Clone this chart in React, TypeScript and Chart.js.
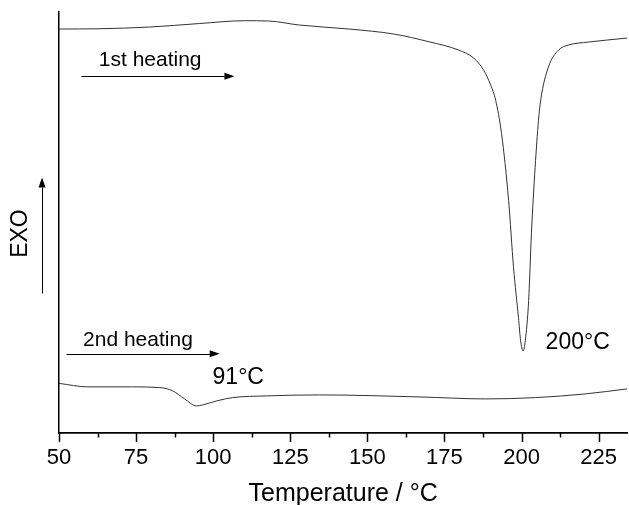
import React, { useEffect, useRef } from "react";
import { Chart, registerables } from "chart.js";

Chart.register(...registerables);

const FONT = "'Liberation Sans', Arial, sans-serif";

// 1st heating curve (temperature °C, signal a.u.)
const heat1X = [50, 63.3, 79.4, 95.6, 110.1, 118, 127.9, 144.1, 158.6, 170, 179.6, 184.5, 187.7, 190.0, 191.6, 193.5, 195.8, 197.4, 199.0, 199.7, 200.5, 201.2, 202.3, 203.2, 204.4, 205.5, 206.2, 208.7, 212.0, 215.2, 221.7, 234.3];
const heat1Y = [403, 403.3, 405, 408.5, 411.3, 411, 407, 403, 398, 390.3, 382, 374, 362, 347, 332, 299, 232, 165, 115, 92, 82, 92, 132, 199, 265, 312, 332, 365, 382, 387, 390, 394];

// 2nd heating curve
const heat2X = [50, 59.4, 73.9, 82.7, 86.9, 90.7, 94.6, 96.6, 101.1, 106.3, 117.2, 134.4, 166.7, 188.4, 204.5, 220.7, 234.3];
const heat2Y = [49.5, 46, 46, 45.3, 42, 34, 27, 28, 32, 35.3, 37, 38, 36, 34, 35.3, 39, 44];

const majorTicks = [50, 75, 100, 125, 150, 175, 200, 225];
const minorTicks = [62.5, 87.5, 112.5, 137.5, 162.5, 187.5, 212.5];
const xMin = 50;
const xMax = 234.3;
const yMin = 0;
const yMax = 420;

const textLabels = [
  { text: "1st heating", x: 62.9, y: 372, size: 21 },
  { text: "2nd heating", x: 57.8, y: 92.5, size: 21 },
  { text: "91°C", x: 99.8, y: 55.5, size: 23 },
  { text: "200°C", x: 207.8, y: 90.5, size: 23 },
];
const arrowList = [
  { x1: 57.1, y1: 356, x2: 106.9, y2: 356 },
  { x1: 52.3, y1: 79, x2: 102.1, y2: 79 },
  { x1: 44.5, y1: 140, x2: 44.5, y2: 255 },
];
const yLabel = { text: "EXO", x: 37.7, y: 199, size: 23 };

const annotPlugin = {
  id: "annot",
  afterDraw(chart: any) {
    const ctx = chart.ctx;
    const xs = chart.scales.x;
    const ys = chart.scales.y;
    const bottom = chart.chartArea.bottom;
    ctx.save();
    ctx.strokeStyle = "#000";
    ctx.fillStyle = "#000";
    ctx.lineWidth = 1.5;
    const drawTick = (v: number, len: number) => {
      const px = Math.round(xs.getPixelForValue(v)) + 0.5;
      ctx.beginPath();
      ctx.moveTo(px, bottom);
      ctx.lineTo(px, bottom + len);
      ctx.stroke();
    };
    majorTicks.forEach((v) => drawTick(v, 9));
    minorTicks.forEach((v) => drawTick(v, 4.5));
    ctx.lineWidth = 1;
    arrowList.forEach((a) => {
      const x1 = xs.getPixelForValue(a.x1);
      const y1 = ys.getPixelForValue(a.y1);
      const x2 = xs.getPixelForValue(a.x2);
      const y2 = ys.getPixelForValue(a.y2);
      const ang = Math.atan2(y2 - y1, x2 - x1);
      const hl = 10;
      const hw = 3.5;
      const bx = x2 - hl * Math.cos(ang);
      const by = y2 - hl * Math.sin(ang);
      ctx.beginPath();
      ctx.moveTo(Math.round(x1) + 0.5, Math.round(y1) + 0.5);
      ctx.lineTo(Math.round(bx) + 0.5, Math.round(by) + 0.5);
      ctx.stroke();
      ctx.beginPath();
      ctx.moveTo(x2, y2);
      ctx.lineTo(bx - hw * Math.sin(ang), by + hw * Math.cos(ang));
      ctx.lineTo(bx + hw * Math.sin(ang), by - hw * Math.cos(ang));
      ctx.closePath();
      ctx.fill();
    });
    ctx.textAlign = "left";
    ctx.textBaseline = "middle";
    textLabels.forEach((t) => {
      ctx.font = `${t.size}px ${FONT}`;
      ctx.fillText(t.text, xs.getPixelForValue(t.x), ys.getPixelForValue(t.y));
    });
    ctx.save();
    ctx.translate(xs.getPixelForValue(yLabel.x), ys.getPixelForValue(yLabel.y));
    ctx.rotate(-Math.PI / 2);
    ctx.textAlign = "center";
    ctx.font = `${yLabel.size}px ${FONT}`;
    ctx.fillText(yLabel.text, 0, 0);
    ctx.restore();
    ctx.restore();
  },
};

export default function App() {
  const ref = useRef<HTMLCanvasElement | null>(null);
  useEffect(() => {
    if (!ref.current) return;
    const chart = new Chart(ref.current, {
      type: "line",
      data: {
        datasets: [
          {
            data: heat1X.map((x, i) => ({ x, y: heat1Y[i] })),
            borderColor: "#333",
            borderWidth: 1,
            pointRadius: 0,
            cubicInterpolationMode: "monotone",
            fill: false,
          },
          {
            data: heat2X.map((x, i) => ({ x, y: heat2Y[i] })),
            borderColor: "#333",
            borderWidth: 1,
            pointRadius: 0,
            cubicInterpolationMode: "monotone",
            fill: false,
          },
        ],
      },
      options: {
        responsive: false,
        animation: false,
        events: [],
        layout: { padding: { left: 59, top: 12, right: 0, bottom: 0 } },
        plugins: { legend: { display: false }, tooltip: { enabled: false } },
        scales: {
          x: {
            type: "linear",
            min: xMin,
            max: xMax,
            afterBuildTicks: (scale: any) => {
              scale.ticks = majorTicks.map((v) => ({ value: v }));
            },
            afterFit: (scale: any) => {
              scale.height = 72;
            },
            grid: { display: false, drawTicks: false, tickLength: 0 },
            border: { display: true, color: "#000", width: 1.8 },
            ticks: {
              color: "#000",
              font: { family: FONT, size: 22 },
              padding: 12,
              maxRotation: 0,
              autoSkip: false,
            },
            title: {
              display: true,
              text: "Temperature / °C",
              color: "#000",
              font: { family: FONT, size: 25, lineHeight: 1 },
              padding: { top: 0, bottom: -2 },
            },
          },
          y: {
            type: "linear",
            min: yMin,
            max: yMax,
            grid: { display: false, drawTicks: false, tickLength: 0 },
            border: { display: true, color: "#000", width: 1.5 },
            ticks: { display: false },
          },
        },
      },
      plugins: [annotPlugin],
    } as any);
    return () => chart.destroy();
  }, []);
  return (
    <div style={{ position: "absolute", left: 0, top: 0, width: 629, height: 505 }}>
      <canvas ref={ref} width={629} height={505} style={{ display: "block" }} />
    </div>
  );
}
